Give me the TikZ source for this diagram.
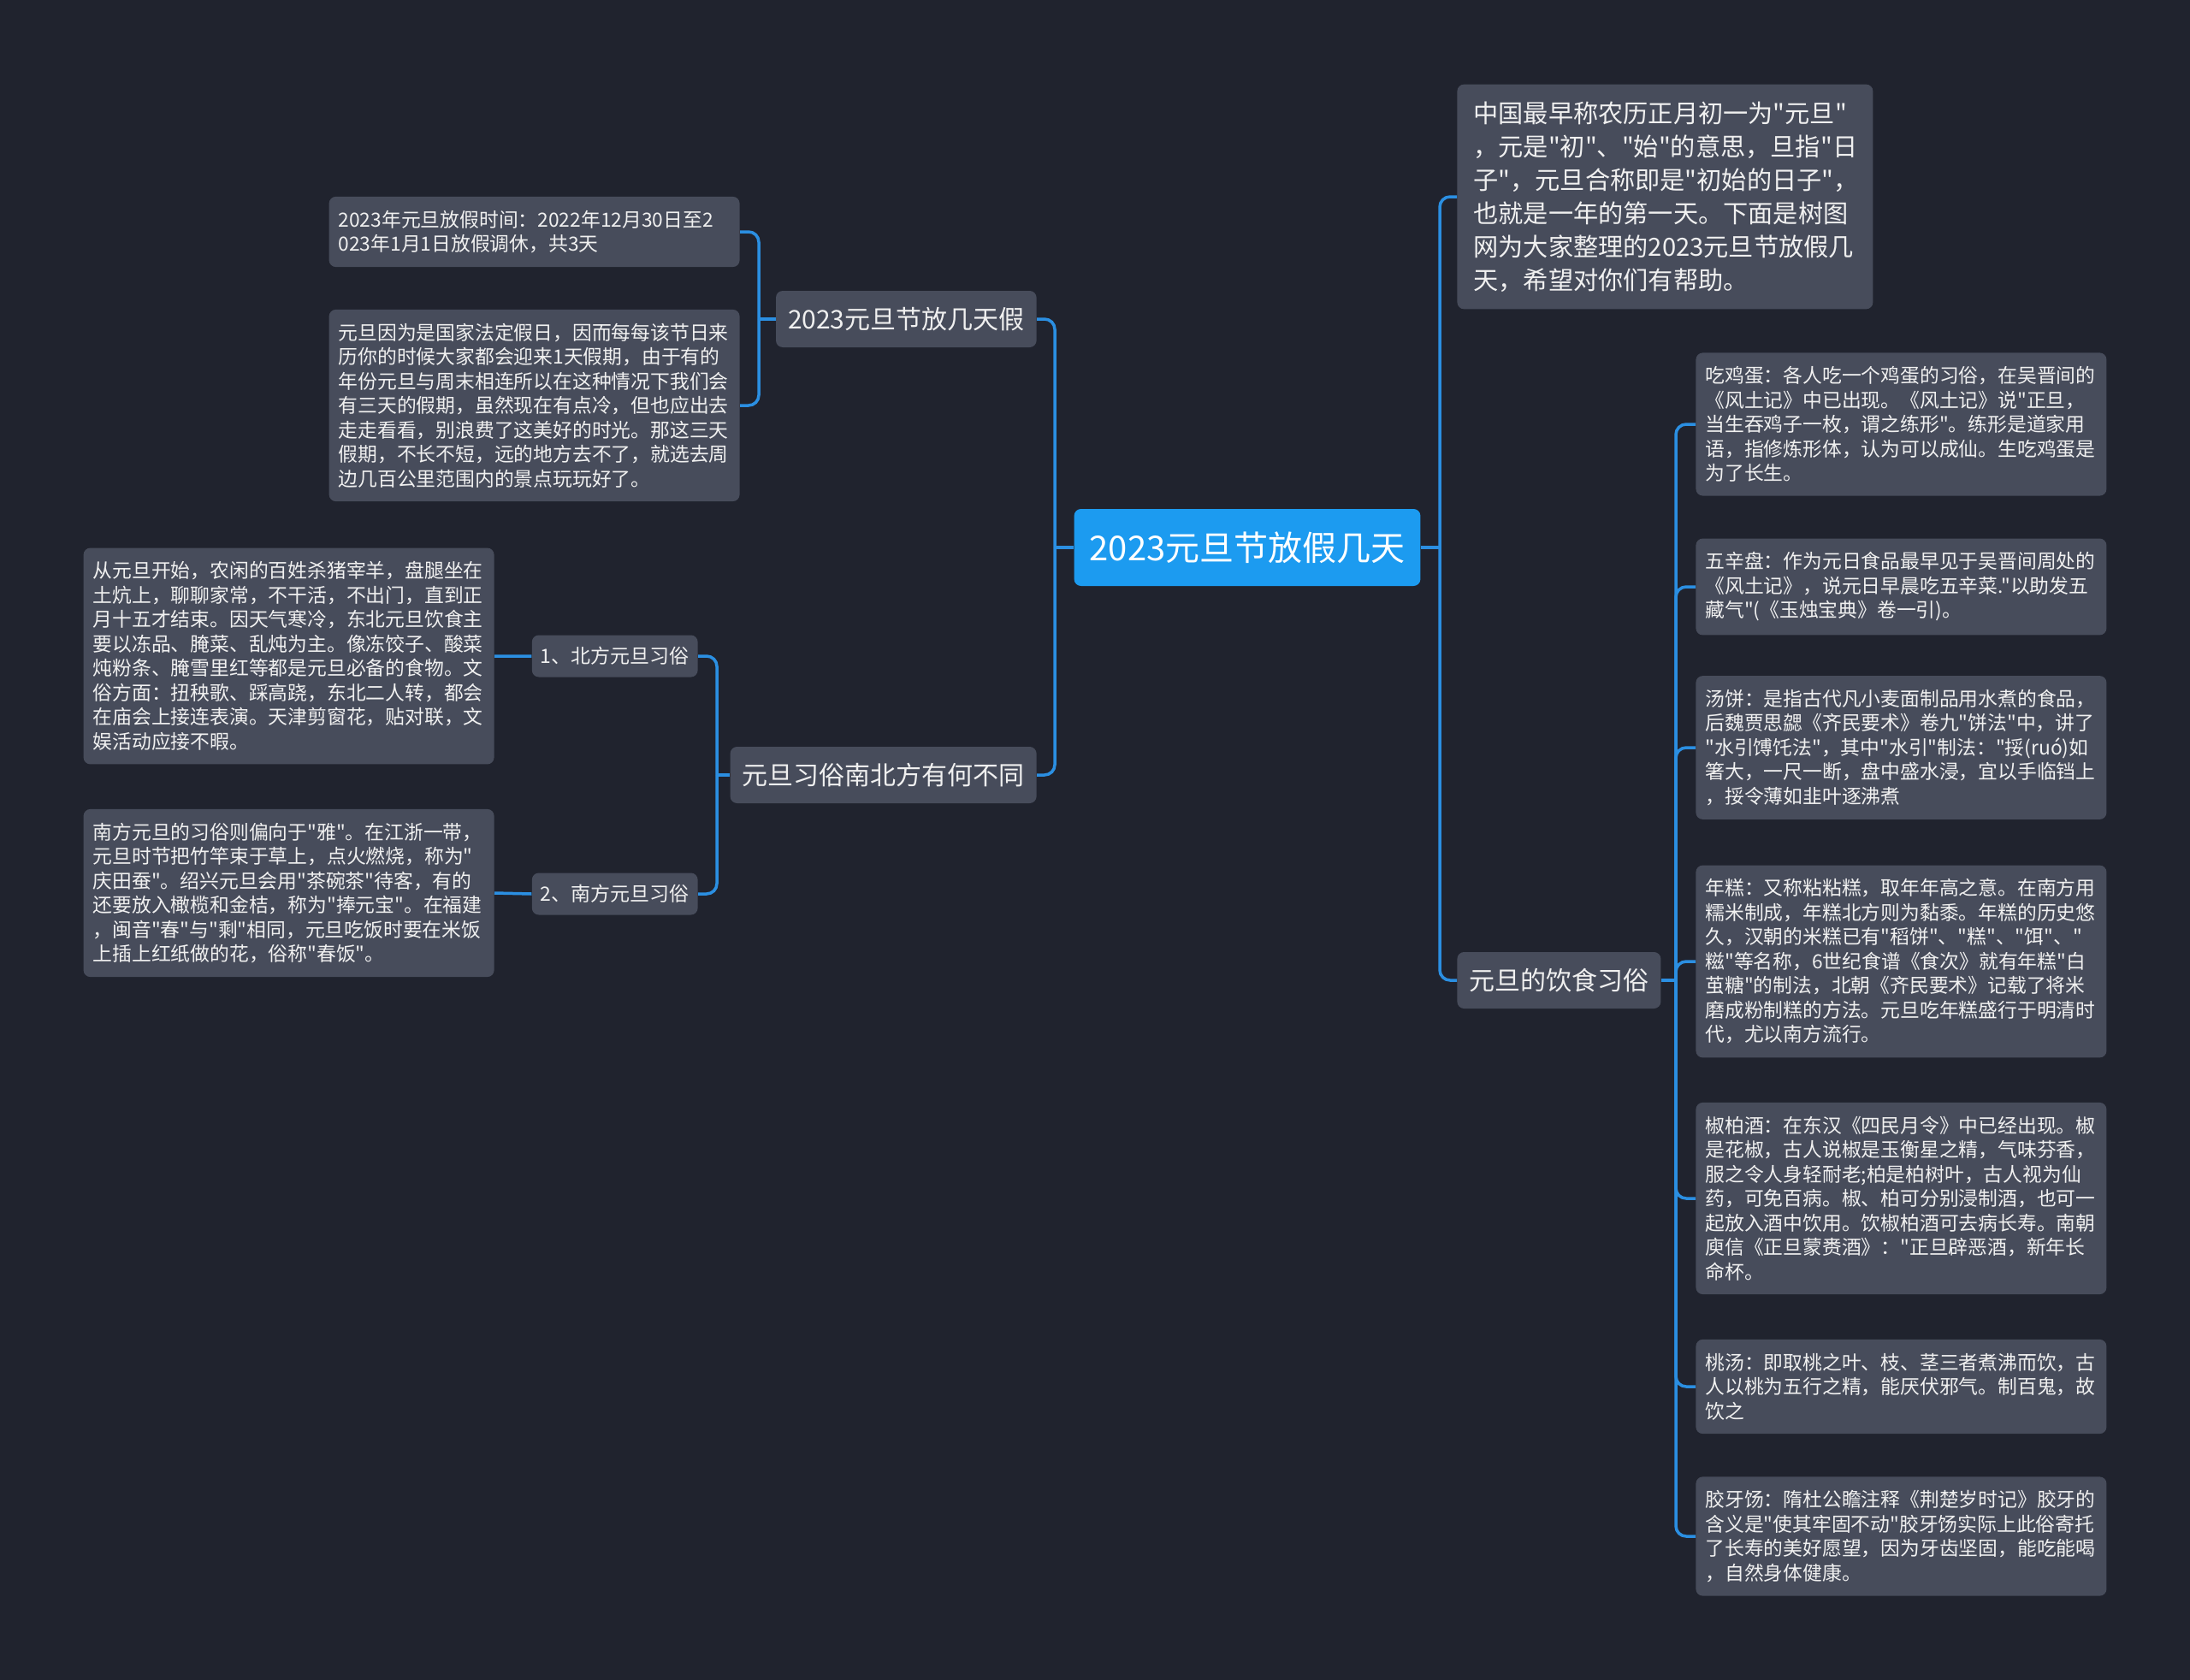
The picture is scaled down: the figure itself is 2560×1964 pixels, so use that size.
\documentclass[tikz,border=0pt]{standalone}
\usepackage{fontspec}
\setmainfont{Noto Sans CJK SC}[Ligatures=TeXOff]
\definecolor{bg}{HTML}{20232E}
\definecolor{cardgray}{HTML}{474C5B}
\definecolor{rootblue}{HTML}{1C9BF0}
\definecolor{linkblue}{HTML}{2B8FE2}
\definecolor{ink}{HTML}{F0F0F0}
\begin{document}
\begin{tikzpicture}[x=0.5pt,y=-0.5pt,
    link/.style={draw=linkblue,line width=1.75pt,rounded corners=6pt},
    hub/.style={fill=rootblue,rounded corners=4pt,text=white,inner xsep=9pt,minimum height=45pt,font=\fontsize{20pt}{24pt}\selectfont},
    topic/.style={fill=cardgray,rounded corners=4pt,text=ink,inner xsep=7pt,minimum height=33pt,font=\fontsize{15pt}{18pt}\selectfont},
    sub/.style={fill=cardgray,rounded corners=4pt,text=ink,inner xsep=5pt,minimum height=24.5pt,font=\fontsize{11.5pt}{14pt}\selectfont},
    card/.style={fill=cardgray,rounded corners=4pt,text=ink,align=left,text width=229pt,inner xsep=5.5pt,inner ysep=8pt,font=\fontsize{11.4pt}{14.25pt}\selectfont},
    intro/.style={fill=cardgray,rounded corners=4pt,text=ink,align=left,text width=224pt,inner xsep=9.5pt,inner ysep=10pt,font=\fontsize{14.6pt}{19.5pt}\selectfont}]
\path[use as bounding box,fill=bg] (0,0) rectangle (2560,1964);
% junctions of the spines
\path
    (1233,640) coordinate (jL)
    (1683,640) coordinate (jR)
    (887,373) coordinate (j1)
    (838,906) coordinate (j2)
    (1959,1146) coordinate (jF)
    ;
\node[hub] (root) at (1458,640) {2023元旦节放假几天};
\node[topic,anchor=east] (hol) at (1212,373) {2023元旦节放几天假};
\node[topic,anchor=east] (cus) at (1212,906) {元旦习俗南北方有何不同};
\node[topic,anchor=west] (food) at (1703,1146) {元旦的饮食习俗};
\node[intro,anchor=west] (intro) at (1703,230) {中国最早称农历正月初一为"元旦"\\，元是"初"、"始"的意思，旦指"日\\子"，元旦合称即是"初始的日子"，\\也就是一年的第一天。下面是树图\\网为大家整理的2023元旦节放假几\\天，希望对你们有帮助。};
% left side
\node[card,anchor=east] (h1) at (865,271) {2023年元旦放假时间：2022年12月30日至2\\023年1月1日放假调休，共3天};
\node[card,anchor=east] (h2) at (865,474) {元旦因为是国家法定假日，因而每每该节日来\\历你的时候大家都会迎来1天假期，由于有的\\年份元旦与周末相连所以在这种情况下我们会\\有三天的假期，虽然现在有点冷，但也应出去\\走走看看，别浪费了这美好的时光。那这三天\\假期，不长不短，远的地方去不了，就选去周\\边几百公里范围内的景点玩玩好了。};
\node[sub,anchor=east] (north) at (816,767) {1、北方元旦习俗};
\node[sub,anchor=east] (south) at (816,1045) {2、南方元旦习俗};
\node[card,anchor=east] (ntxt) at (578,767) {从元旦开始，农闲的百姓杀猪宰羊，盘腿坐在\\土炕上，聊聊家常，不干活，不出门，直到正\\月十五才结束。因天气寒冷，东北元旦饮食主\\要以冻品、腌菜、乱炖为主。像冻饺子、酸菜\\炖粉条、腌雪里红等都是元旦必备的食物。文\\俗方面：扭秧歌、踩高跷，东北二人转，都会\\在庙会上接连表演。天津剪窗花，贴对联，文\\娱活动应接不暇。};
\node[card,anchor=east] (stxt) at (578,1044) {南方元旦的习俗则偏向于"雅"。在江浙一带，\\元旦时节把竹竿束于草上，点火燃烧，称为"\\庆田蚕"。绍兴元旦会用"茶碗茶"待客，有的\\还要放入橄榄和金桔，称为"捧元宝"。在福建\\，闽音"春"与"剩"相同，元旦吃饭时要在米饭\\上插上红纸做的花，俗称"春饭"。};
% right side, food customs
\node[card,anchor=west] (f1) at (1982,496) {吃鸡蛋：各人吃一个鸡蛋的习俗，在吴晋间的\\《风土记》中已出现。《风土记》说"正旦，\\当生吞鸡子一枚，谓之练形"。练形是道家用\\语，指修炼形体，认为可以成仙。生吃鸡蛋是\\为了长生。};
\node[card,anchor=west] (f2) at (1982,686) {五辛盘：作为元日食品最早见于吴晋间周处的\\《风土记》，说元日早晨吃五辛菜."以助发五\\藏气"(《玉烛宝典》卷一引)。};
\node[card,anchor=west] (f3) at (1982,874) {汤饼：是指古代凡小麦面制品用水煮的食品，\\后魏贾思勰《齐民要术》卷九"饼法"中，讲了\\"水引馎饦法"，其中"水引"制法："挼(ruó)如\\箸大，一尺一断，盘中盛水浸，宜以手临铛上\\，挼令薄如韭叶逐沸煮};
\node[card,anchor=west] (f4) at (1982,1124) {年糕：又称粘粘糕，取年年高之意。在南方用\\糯米制成，年糕北方则为黏黍。年糕的历史悠\\久，汉朝的米糕已有"稻饼"、"糕"、"饵"、"\\糍"等名称，6世纪食谱《食次》就有年糕"白\\茧糖"的制法，北朝《齐民要术》记载了将米\\磨成粉制糕的方法。元旦吃年糕盛行于明清时\\代，尤以南方流行。};
\node[card,anchor=west] (f5) at (1982,1401) {椒柏酒：在东汉《四民月令》中已经出现。椒\\是花椒，古人说椒是玉衡星之精，气味芬香，\\服之令人身轻耐老;柏是柏树叶，古人视为仙\\药，可免百病。椒、柏可分别浸制酒，也可一\\起放入酒中饮用。饮椒柏酒可去病长寿。南朝\\庾信《正旦蒙赉酒》："正旦辟恶酒，新年长\\命杯。};
\node[card,anchor=west] (f6) at (1982,1621) {桃汤：即取桃之叶、枝、茎三者煮沸而饮，古\\人以桃为五行之精，能厌伏邪气。制百鬼，故\\饮之};
\node[card,anchor=west] (f7) at (1982,1796) {胶牙饧：隋杜公瞻注释《荆楚岁时记》胶牙的\\含义是"使其牢固不动"胶牙饧实际上此俗寄托\\了长寿的美好愿望，因为牙齿坚固，能吃能喝\\，自然身体健康。};
% connectors
\draw[link] (root.west)--(jL) (root.east)--(jR) (hol.west)--(j1) (cus.west)--(j2) (food.east)--(jF);
\draw[link] (jL) |- (hol.east);
\draw[link] (jL) |- (cus.east);
\draw[link] (jR) |- (intro.west);
\draw[link] (jR) |- (food.west);
\draw[link] (j1) |- (h1.east);
\draw[link] (j1) |- (h2.east);
\draw[link] (j2) |- (north.east);
\draw[link] (j2) |- (south.east);
\draw[link] (north.west)--(ntxt.east) (south.west)--(stxt.east);
\foreach \f in {f1,f2,f3,f4,f5,f6,f7}\draw[link] (jF) |- (\f.west);
\end{tikzpicture}
\end{document}
